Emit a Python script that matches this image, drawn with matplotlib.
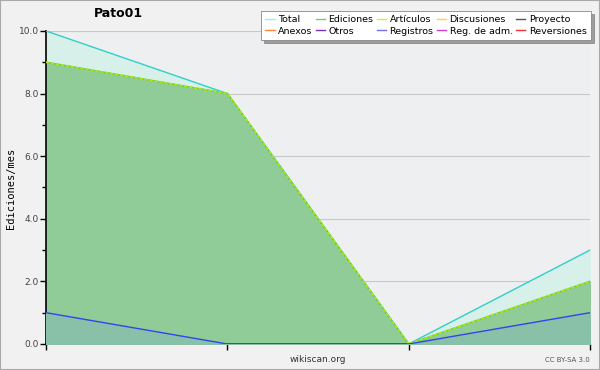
import numpy as np
import matplotlib.pyplot as plt
from matplotlib.lines import Line2D

# datos mensuales
months = [0, 1, 2, 3]
total = [10, 8, 0, 3]
ediciones = [9, 8, 0, 2]
articulos = [9, 8, 0, 2]
registros = [1, 0, 0, 1]

legend_names = ['Total', 'Ediciones', 'Artículos', 'Discusiones', 'Proyecto',
                'Anexos', 'Otros', 'Registros', 'Reg. de adm.', 'Reversiones']
legend_colors = ['#a8e8e0', '#78c878', '#c8ee50', '#ffd050', '#555555',
                 '#ff8040', '#8030c0', '#7070f0', '#d040d0', '#ee3030']

fig = plt.figure(figsize=(6, 3.7), dpi=100, facecolor='#f1f1f1')
fig.patches.append(plt.Rectangle((0, 0), 1, 1, transform=fig.transFigure,
                                 fill=False, edgecolor='#aaaaaa', linewidth=1.5))
ax = fig.add_axes([0.0767, 0.0703, 0.9066, 0.846])
ax.set_facecolor('#eeeff0')

ax.fill_between(months, total, color='#d8f0ea', zorder=1)
ax.plot(months, total, color='#30d0c8', lw=1, zorder=4)
ax.fill_between(months, ediciones, color='#90cc98', zorder=2)
ax.plot(months, ediciones, color='#70c070', lw=1.2, zorder=4)
ax.plot(months, articulos, color='#aaee00', lw=1.2, ls=(0, (2, 1)), zorder=5)
ax.fill_between(months, registros, color='#88c0a8', zorder=3)
ax.plot(months, registros, color='#3344ee', lw=1, zorder=5)

ax.set_xlim(0, 3)
ax.set_ylim(0, 10)
ax.set_xticks(months)
ax.set_xticklabels([])
ax.set_yticks([0, 2, 4, 6, 8, 10])
ax.set_yticklabels(['0.0', '2.0', '4.0', '6.0', '8.0', '10.0'], fontsize=6.5, color='#444444')
ax.set_yticks(np.arange(1, 10, 2), minor=True)
ax.tick_params(axis='both', which='major', length=4, width=1, pad=1)
ax.tick_params(axis='y', which='minor', length=3, width=1)
ax.grid(axis='y', color='#c8c8c8', lw=0.8, zorder=0)
ax.set_axisbelow(True)
for s in ['top', 'right']:
    ax.spines[s].set_visible(False)
ax.spines['left'].set_linewidth(1.2)
ax.spines['bottom'].set_linewidth(1.2)

fig.text(0.018, 0.49, 'Ediciones/mes', family='DejaVu Sans Mono', fontsize=7.5,
         rotation=90, ha='center', va='center')
fig.text(0.53, 0.022, 'wikiscan.org', ha='center', fontsize=6.5, color='#333333')
fig.text(0.983, 0.022, 'CC BY-SA 3.0', ha='right', fontsize=5, color='#555555')
fig.text(0.197, 0.953, 'Pato01', ha='center', fontsize=9, fontweight='bold')

handles = [Line2D([0], [0], color=c, lw=1) for c in legend_colors]
order = [0, 5, 1, 6, 2, 7, 3, 8, 4, 9]
leg = fig.legend([handles[i] for i in order], [legend_names[i] for i in order],
                 ncol=5, loc='upper right', bbox_to_anchor=(0.988, 0.975),
                 fontsize=6.8, handlelength=1.0, handletextpad=0.35, columnspacing=0.35,
                 labelspacing=0.25, borderpad=0.45, borderaxespad=0.2, fancybox=False, shadow=True,
                 framealpha=1, edgecolor='#888888')
leg.get_frame().set_linewidth(0.6)
leg.get_frame().set_facecolor('white')

fig.savefig('out.png', dpi=100, facecolor=fig.get_facecolor())
